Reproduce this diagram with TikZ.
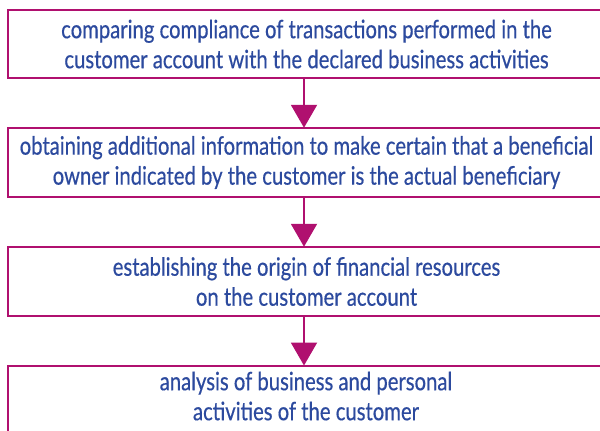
\documentclass[tikz,border=0pt]{standalone}
\usepackage{fontspec}
\setmainfont[FakeStretch=0.80,FakeBold=0.5]{Lato}
\usetikzlibrary{arrows.meta}
\definecolor{framec}{HTML}{B0106F}
\definecolor{textc}{HTML}{2C4A9E}
% one drawing unit = one pixel of a 600 x 431 canvas (0.75pt)
\begin{document}
\begin{tikzpicture}[x=0.75pt,y=-0.75pt,
  stepbox/.style={draw=framec, line width=1.125pt, minimum width=447.75pt,
    inner sep=0pt, text=textc, align=center,
    font=\fontsize{19}{22.5}\selectfont},
  steptext/.style={inner sep=0pt, text=textc, align=center,
    font=\fontsize{19}{22.5}\selectfont},
  flow/.style={draw=framec, line width=1.5pt,
    -{Triangle[length=17.25pt,width=19.5pt]}, shorten >=-0.4pt}]
\useasboundingbox (0,0) rectangle (600,431);
\node[stepbox, minimum height=51pt] (a) at (306.5,44)
  {comparing compliance of transactions performed in the\\customer account with the declared business activities};
\node[stepbox, minimum height=51.75pt] (b) at (306.5,162.5)
  {obtaining additional information to make certain that a beneficial\\owner indicated by the customer is the actual beneficiary};
\node[stepbox, minimum height=51.75pt] (c) at (306.5,281.5)
  {establishing the origin of financial resources\\on the customer account};
\node[stepbox, minimum height=67.5pt, anchor=north] (d) at (306.5,365) {};
\node[steptext] (dt) at (306,396)
  {analysis of business and personal\\activities of the customer};
\draw[flow] (a.south -| 304,0) -- (b.north -| 304,0);
\draw[flow] (b.south -| 304,0) -- (c.north -| 304,0);
\draw[flow] (c.south -| 304,0) -- (d.north -| 304,0);
\end{tikzpicture}
\end{document}
